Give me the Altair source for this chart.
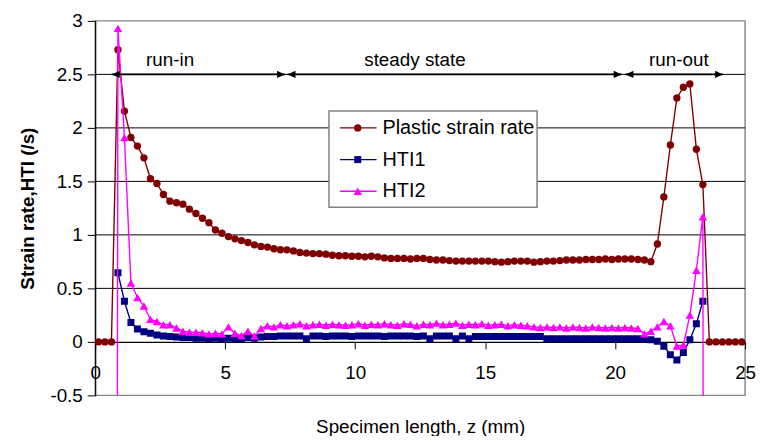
import altair as alt
import pandas as pd

FONT = "Liberation Sans"

# node positions along the specimen (mm): 100 elements of 0.25 mm
z_nodes = [round(0.125 + 0.25 * j, 3) for j in range(100)]

plastic = [0.0, 0.0, 0.0,
           2.73, 2.157, 1.91, 1.83, 1.72, 1.525, 1.48, 1.377, 1.315, 1.30,
           1.287, 1.24, 1.20, 1.155, 1.114, 1.046, 1.015, 0.984, 0.963, 0.947,
           0.929, 0.907, 0.892, 0.886, 0.870, 0.861, 0.86, 0.85, 0.835, 0.83,
           0.825, 0.825, 0.82, 0.81, 0.805, 0.805, 0.80, 0.80, 0.795, 0.80,
           0.795, 0.785, 0.78, 0.78, 0.78, 0.775, 0.78, 0.78, 0.77, 0.765,
           0.765, 0.76, 0.755, 0.755, 0.755, 0.755, 0.755, 0.755, 0.75, 0.745,
           0.75, 0.755, 0.755, 0.755, 0.745, 0.75, 0.755, 0.755, 0.76, 0.765,
           0.765, 0.765, 0.77, 0.77, 0.77, 0.775, 0.77, 0.775, 0.775, 0.775,
           0.77, 0.765, 0.75, 0.915, 1.355, 1.84, 2.28, 2.38, 2.41, 1.80, 1.47,
           0.0, 0.0, 0.0, 0.0, 0.0, 0.0]

hti1 = [None, None, None,
        0.645, 0.38, 0.18, 0.12, 0.095, 0.08, 0.065, 0.055, 0.05, 0.045,
        0.04, 0.04, 0.035, 0.035, 0.03, 0.035, 0.03, 0.035, 0.03, 0.03,
        0.04, 0.035, 0.045, 0.05, 0.05, 0.055, 0.055, 0.055, 0.055, 0.03,
        0.055, 0.055, 0.05, 0.055, 0.055, 0.055, 0.05, 0.055, 0.055, 0.055,
        0.055, 0.05, 0.055, 0.055, 0.055, 0.055, 0.05, 0.055, 0.03, 0.055,
        0.055, 0.055, 0.03, 0.055, 0.03, 0.05, 0.05, 0.05, 0.05, 0.05,
        0.05, 0.05, 0.05, 0.05, 0.05, 0.05, 0.03, 0.03, 0.03, 0.03,
        0.03, 0.03, 0.03, 0.03, 0.03, 0.03, 0.03, 0.03, 0.03, 0.03, 0.03,
        0.025, 0.02, 0.005, -0.04, -0.12, -0.17, -0.10, 0.02, 0.17, 0.38,
        None, None, None, None, None, None]

hti2 = [None, None, -40.0,
        2.93, 1.91, 0.55, 0.415, 0.335, 0.21, 0.19, 0.16, 0.16, 0.13,
        0.10, 0.09, 0.09, 0.085, 0.075, 0.08, 0.075, 0.14, 0.08, 0.06,
        0.10, 0.055, 0.125, 0.15, 0.14, 0.16, 0.15, 0.16, 0.17, 0.15,
        0.16, 0.165, 0.155, 0.165, 0.16, 0.155, 0.16, 0.17, 0.155, 0.165,
        0.16, 0.17, 0.16, 0.155, 0.17, 0.165, 0.15, 0.165, 0.16, 0.175,
        0.16, 0.165, 0.175, 0.155, 0.165, 0.16, 0.17, 0.155, 0.16, 0.165,
        0.15, 0.16, 0.155, 0.15, 0.14, 0.135, 0.14, 0.135, 0.14, 0.13,
        0.14, 0.135, 0.13, 0.14, 0.135, 0.13, 0.135, 0.13, 0.135, 0.13,
        0.125, 0.075, 0.10, 0.14, 0.19, 0.15, -0.04, -0.03, 0.25, 0.67, 1.17,
        -40.0, None, None, None, None, None]

series_names = ["Plastic strain rate", "HTI1", "HTI2"]
series_colors = ["#800000", "#000080", "#FF00FF"]

grid_values = [0.5, 1.0, 1.5, 2.0, 2.5]
x_ticks = [0, 5, 10, 15, 20, 25]
y_ticks = [-0.5, 0, 0.5, 1, 1.5, 2, 2.5, 3]

arrow_labels = ["run-in", "steady state", "run-out"]
arrow_from = [0.64, 7.40, 20.40]
arrow_to = [7.30, 20.25, 24.15]
arrow_level = 2.5
label_z = [2.88, 12.3, 22.45]
label_level = 2.63

FS = 19


def frame(vals):
    df = pd.DataFrame({"z": z_nodes, "v": vals})
    return df.dropna().reset_index(drop=True)


xscale = alt.Scale(domain=[0, 25], nice=False, zero=False)
yscale = alt.Scale(domain=[-0.5, 3], nice=False, zero=False)

x_axis = alt.Axis(values=x_ticks, labelExpr="toString(datum.value)", offset=-54,
                  domainColor="black", domainWidth=1.2, tickColor="black", tickSize=7,
                  labelFontSize=FS, labelPadding=15, labelColor="black", labelFlush=False,
                  title="Specimen length, z (mm)", titleFontSize=FS,
                  titleFontWeight="normal", titleColor="black", titleY=85,
                  titleBaseline="middle", grid=False)
y_axis = alt.Axis(values=y_ticks, labelExpr="toString(datum.value)",
                  domainColor="black", domainWidth=1.2, tickColor="black", tickSize=8,
                  labelFontSize=FS, labelPadding=5, labelColor="black",
                  title="Strain rate,HTI (/s)", titleFontSize=FS, titleFontWeight="bold",
                  titleColor="black", titleX=-68, titleBaseline="middle", grid=False)

X = alt.X("z:Q", scale=xscale, axis=x_axis)
Y = alt.Y("v:Q", scale=yscale, axis=y_axis)

grid = alt.Chart(pd.DataFrame({"g": grid_values})).mark_rule(
    color="black", strokeWidth=1).encode(y=alt.Y("g:Q", scale=yscale, axis=y_axis))

layers = [grid]
marker_specs = [("circle", 55), ("square", 50), ("triangle-up", 75)]
for vals, color, (shape, size) in zip([plastic, hti1, hti2], series_colors, marker_specs):
    df = frame(vals)
    line = alt.Chart(df).mark_line(color=color, strokeWidth=1.4, clip=True).encode(x=X, y=Y)
    pts = alt.Chart(df).transform_filter("datum.v > -1").mark_point(
        shape=shape, size=size, filled=True, color=color, opacity=1, clip=True
    ).encode(x=X, y=Y)
    layers += [line, pts]

adf = pd.DataFrame({"label": arrow_labels, "a": arrow_from, "b": arrow_to,
                    "lvl": [arrow_level] * 3, "lz": label_z, "ll": [label_level] * 3})
arrow_rule = alt.Chart(adf).mark_rule(color="black", strokeWidth=2).encode(
    x=alt.X("a:Q", scale=xscale, axis=x_axis), x2="b:Q",
    y=alt.Y("lvl:Q", scale=yscale, axis=y_axis))
head_l = alt.Chart(adf).mark_point(shape="M0,0L1,-0.45L1,0.45Z", size=256, filled=True,
                                   color="black", opacity=1, strokeWidth=0).encode(
    x=alt.X("a:Q", scale=xscale, axis=x_axis), y=alt.Y("lvl:Q", scale=yscale, axis=y_axis))
head_r = alt.Chart(adf).mark_point(shape="M0,0L-1,-0.45L-1,0.45Z", size=256, filled=True,
                                   color="black", opacity=1, strokeWidth=0).encode(
    x=alt.X("b:Q", scale=xscale, axis=x_axis), y=alt.Y("lvl:Q", scale=yscale, axis=y_axis))
arrow_text = alt.Chart(adf).mark_text(font=FONT, fontSize=FS, color="black",
                                      baseline="middle", align="center").encode(
    x=alt.X("lz:Q", scale=xscale, axis=x_axis), y=alt.Y("ll:Q", scale=yscale, axis=y_axis),
    text="label:N")
layers += [arrow_rule, head_l, head_r, arrow_text]

# legend box (drawn manually, Excel style)
one = pd.DataFrame({"k": [0]})
layers.append(alt.Chart(one).mark_rect(fill="white", stroke="#808080", strokeWidth=1.5).encode(
    x=alt.value(236), x2=alt.value(446), y=alt.value(91), y2=alt.value(188)))
leg_y = [108, 140, 172]
for name, color, (shape, size), yy in zip(series_names, series_colors, marker_specs, leg_y):
    layers.append(alt.Chart(one).mark_rule(color=color, strokeWidth=1.4).encode(
        x=alt.value(247), x2=alt.value(284), y=alt.value(yy)))
    layers.append(alt.Chart(one).mark_point(shape=shape, size=size, filled=True, color=color,
                                            opacity=1).encode(x=alt.value(265), y=alt.value(yy)))
    layers.append(alt.Chart(one).mark_text(font=FONT, fontSize=20, color="black", align="left",
                                           baseline="middle").encode(
        x=alt.value(290), y=alt.value(yy), text=alt.value(name)))

chart = alt.layer(*layers).properties(
    width=656, height=378,
    autosize=alt.AutoSizeParams(type="none"),
    padding={"left": 88, "top": 11, "right": 12, "bottom": 39},
).configure(font=FONT).configure_view(stroke="#888888", strokeWidth=1.5)

chart.save("out.html", embed_options={"renderer": "svg", "actions": False})
